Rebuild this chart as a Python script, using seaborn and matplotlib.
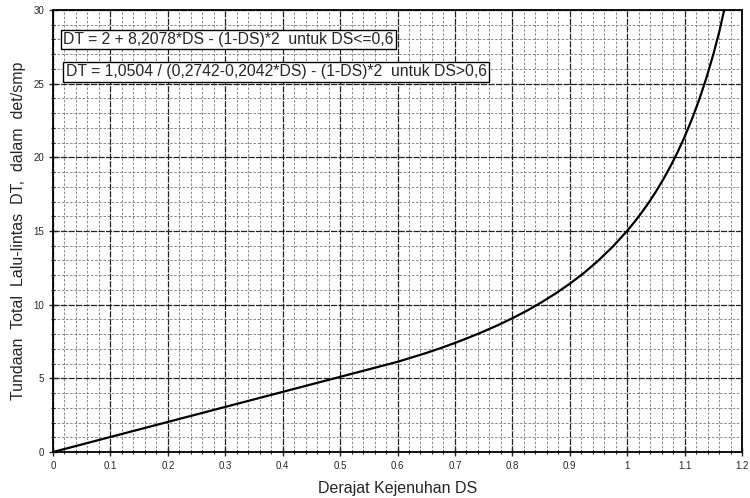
import numpy as np
import pandas as pd
import matplotlib
matplotlib.use("Agg")
import matplotlib.pyplot as plt
from matplotlib.ticker import MultipleLocator, FormatStrFormatter
import seaborn as sns

# values
ds = [0.0, 0.05, 0.1, 0.15, 0.2, 0.25, 0.3, 0.35, 0.4, 0.45, 0.5, 0.55, 0.6,
      0.625, 0.65, 0.675, 0.7, 0.725, 0.75, 0.775, 0.8, 0.825, 0.85, 0.875,
      0.9, 0.925, 0.95, 0.975, 1.0, 1.0125, 1.025, 1.0375, 1.05, 1.0625,
      1.075, 1.0875, 1.1, 1.1125, 1.125, 1.1375, 1.15, 1.16, 1.169]
dt = [0.0, 0.51, 1.02, 1.53, 2.04, 2.55, 3.06, 3.57, 4.08, 4.59, 5.10, 5.61, 6.12,
      6.42, 6.72, 7.05, 7.40, 7.78, 8.18, 8.61, 9.08, 9.58, 10.14, 10.75,
      11.42, 12.16, 13.00, 13.94, 15.01, 15.60, 16.24, 16.92, 17.67, 18.48,
      19.36, 20.32, 21.39, 22.56, 23.87, 25.33, 26.98, 28.46, 30.0]

eq_low = "DT = 2 + 8,2078*DS - (1-DS)*2  untuk DS<=0,6"
eq_high = "DT = 1,0504 / (0,2742-0,2042*DS) - (1-DS)*2  untuk DS>0,6"

df = pd.DataFrame({"DS": ds, "DT": dt})

sns.set_style("white")
plt.rcParams['font.family'] = ['Liberation Sans', 'DejaVu Sans']

fig = plt.figure(figsize=(7.5, 4.98), dpi=100)
ax = fig.add_axes([53/750, 1-452/498, 689/750, 442/498])

sns.lineplot(data=df, x="DS", y="DT", color="black", linewidth=1.6, ax=ax)

ax.set_xlim(0, 1.2)
ax.set_ylim(0, 30)
ax.xaxis.set_major_locator(MultipleLocator(0.1))
ax.xaxis.set_minor_locator(MultipleLocator(0.02))
ax.yaxis.set_major_locator(MultipleLocator(5))
ax.yaxis.set_minor_locator(MultipleLocator(1))
ax.xaxis.set_major_formatter(FormatStrFormatter('%g'))

ax.grid(which="major", color="#222222", linewidth=0.9, linestyle=(0, (5, 1)))
ax.grid(which="minor", color="#777777", linewidth=0.6, linestyle=(0, (3, 2)))

ax.tick_params(which="major", direction="inout", length=6, width=1, labelsize=7,
               bottom=True, left=True)
ax.tick_params(which="minor", direction="inout", length=3, width=0.8,
               bottom=True, left=True)
for s in ax.spines.values():
    s.set_linewidth(1.3)
    s.set_color("black")

ax.set_xlabel("Derajat Kejenuhan DS", fontsize=11.5, labelpad=7)
ax.set_ylabel("Tundaan  Total  Lalu-lintas  DT,  dalam  det/smp", fontsize=11.5,
              labelpad=5)

box = dict(boxstyle="square,pad=0.15", facecolor="white", edgecolor="black", linewidth=1)
ax.text(0.018, 28.0, eq_low, fontsize=11.3, va="center", ha="left", bbox=box)
ax.text(0.022, 25.8, eq_high, fontsize=11.3, va="center", ha="left", bbox=box)

fig.savefig("out.png", dpi=100)
